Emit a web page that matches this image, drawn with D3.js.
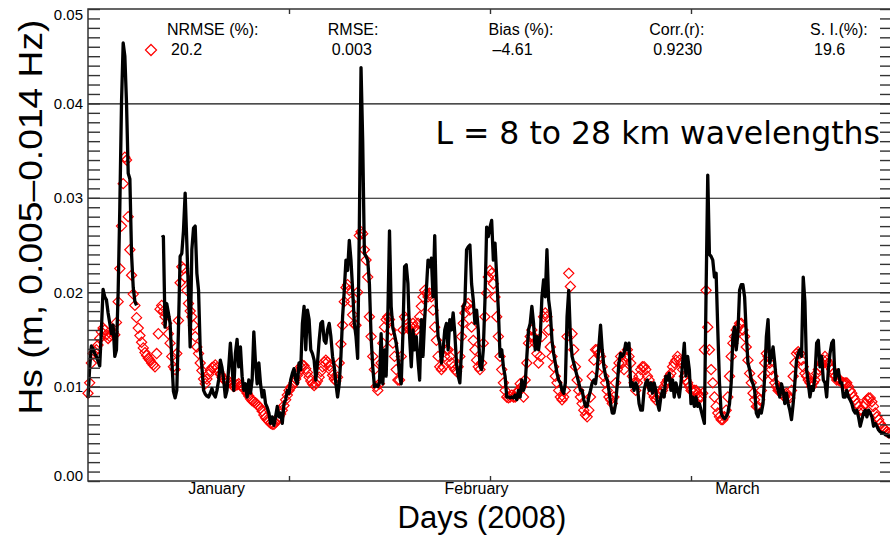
<!DOCTYPE html>
<html>
<head>
<meta charset="utf-8">
<script src="https://cdn.jsdelivr.net/npm/d3@7"></script>
<style>
  body { margin: 0; background: #fff; }
  svg { display: block; font-family: "Liberation Sans", Arial, Helvetica, sans-serif; }
</style>
</head>
<body>
<div id="chart"></div>
<script>
// Hs in mm, one sample every 4.5 h (0.1875 day) from the start of the record
const stepDays = 0.1875;

// model (red diamonds)
const hsModel = [
  9.3, 10.4, 12.5, 13.5, 13.7, 13.9, 14.4, 15.1, 15.8, 16.2,
  16.0, 15.5, 15.1, 15.3, 15.5, 15.8, 15.5, 16.8, 19.0, 22.5,
  27.0, 31.5, 34.3, 34.0, 28.0, 24.5, 21.8, 19.8, 18.6, 17.3,
  16.2, 15.4, 14.7, 14.1, 13.6, 13.3, 13.0, 12.8, 12.5, 12.3,
  12.1, 13.5, 15.6, 18.2, 18.6, 18.0, 17.4, 16.7, 15.6, 14.6,
  13.2, 12.1, 11.8, 13.5, 17.0, 21.0, 22.7, 22.5, 21.6, 20.2,
  18.8, 18.0, 17.4, 16.5, 15.3, 14.2, 13.5, 12.5, 11.7, 10.8,
  10.3, 10.8, 11.3, 11.7, 12.0, 12.1, 12.3, 12.0, 11.6, 11.3,
  11.0, 10.8, 10.6, 10.5, 10.6, 10.4, 10.2, 10.0, 10.1, 10.2,
  10.3, 10.1, 10.0, 9.8, 9.6, 9.3, 9.0, 8.7, 8.5, 8.4,
  8.3, 8.1, 7.9, 7.7, 7.4, 7.0, 6.7, 6.5, 6.3, 6.1,
  6.0, 6.0, 6.2, 6.5, 6.8, 7.1, 7.5, 8.0, 8.6, 9.1,
  9.6, 9.9, 10.1, 10.4, 10.8, 11.2, 11.6, 12.1, 12.3, 12.2,
  11.9, 11.5, 11.0, 10.6, 10.3, 10.1, 10.3, 10.6, 11.0, 11.6,
  12.1, 12.6, 12.8, 12.6, 12.2, 11.7, 11.2, 10.8, 10.6, 11.0,
  12.5, 14.5, 16.5, 19.0, 20.5, 20.8, 20.2, 19.0, 17.6, 16.6,
  16.5, 20.0,
  26.0, 26.4, 26.2, 24.5, 23.4, 21.6, 17.4, 15.3, 13.2, 11.8,
  10.0, 9.6, 10.3, 12.5, 14.6, 16.3, 17.1, 17.4, 17.1, 16.0,
  14.6, 13.2, 11.8, 10.7, 10.7, 13.2, 16.0, 17.4, 17.1, 16.3,
  16.0, 16.3, 16.7, 16.3, 16.0, 16.7, 17.4, 18.5, 19.5, 20.2,
  19.9, 19.5, 19.9, 19.5, 18.1, 16.3, 14.9, 13.2, 12.1, 11.8,
  12.1, 13.2, 13.9, 13.9, 13.2, 12.5, 12.1, 11.8, 11.6, 12.1,
  13.2, 15.3, 16.7, 17.8, 18.5, 18.8, 18.1, 16.3, 14.9, 13.9,
  12.8, 12.1, 11.8, 12.5, 14.6, 17.4, 19.9, 21.6, 22.3, 22.0,
  20.9, 19.5, 17.4, 15.3, 13.2, 11.8, 10.4, 9.6, 8.9, 8.8,
  8.9, 9.1, 8.9, 8.9, 9.3, 9.6, 10.3, 10.0, 8.9, 10.7,
  12.5, 14.6, 15.3, 16.0, 15.3, 14.6, 13.5, 12.5, 13.2, 15.3,
  17.4, 17.8, 17.4, 16.0, 14.2, 13.2, 12.1, 11.1, 10.4, 9.6,
  8.9, 8.6, 8.9, 9.6, 15.3, 22.0, 20.6, 15.6, 13.9, 12.1,
  10.7, 9.6, 8.9, 8.2, 7.5, 7.0, 6.8, 7.5, 8.9, 11.1,
  12.8, 13.9, 13.9, 13.5, 13.2, 12.1, 11.1, 10.4, 9.6, 8.9,
  8.6, 8.2, 8.9, 10.4, 11.8, 12.5, 13.2, 12.5, 11.8,
  13.2, 13.9, 13.2, 12.5, 11.1, 10.4, 9.6, 10.4, 11.1, 11.8,
  12.1, 12.1, 11.8, 11.1, 10.7, 10.0, 9.3, 8.9, 8.6, 8.9,
  9.3, 9.3, 9.6, 10.0, 10.4, 10.7, 11.1, 11.4, 12.1, 12.5,
  12.8, 13.2, 12.8, 12.5, 11.8, 11.1, 10.7, 10.4, 10.0, 9.6,
  9.5, 9.6, 9.6, 9.3, 8.9, 8.9, 9.3, 13.9, 20.2, 16.3,
  13.9, 11.8, 10.4, 8.9, 7.9, 7.2, 6.8, 6.5, 6.5, 6.8,
  7.5, 8.9, 11.1, 13.2, 14.6, 15.3, 16.0, 16.3, 16.7, 16.7,
  16.0, 15.3, 14.2, 12.8, 11.4, 10.4, 9.3, 8.6, 7.9, 7.9,
  8.6, 9.6, 11.1, 12.5, 13.5, 13.2, 12.5, 11.8, 11.1, 10.4,
  10.0, 9.6, 9.6, 9.3, 9.1, 8.9, 9.3, 8.9, 8.8, 9.6,
  11.1, 12.5, 13.5, 13.7, 13.5, 12.8, 12.1, 11.4, 11.1, 10.7,
  10.4, 10.0, 10.4, 10.7, 11.4, 11.8, 12.1, 12.5, 12.8, 13.2,
  12.8, 12.5, 12.1, 11.8, 11.4, 11.1, 10.7, 10.7, 10.7, 10.4,
  10.4, 10.4, 10.4, 10.0, 9.6, 9.3, 8.9, 8.6, 8.2, 7.9,
  7.5, 7.5, 7.9, 8.2, 8.6, 8.8, 8.8, 8.4, 7.9, 7.2,
  6.8, 6.5, 6.1, 5.8, 5.6, 5.4, 5.2, 5.1, 5.1, 4.9
];

// observations (black line), null = no data
const hsObs = [
  8.8, 12.0, 14.3, 14.0, 13.5, 13.2, 12.7, 12.2, 16.0, 20.3,
  19.5, 19.2, 17.8, 16.7, 15.6, 16.5, 13.2, 13.9, 20.0, 29.0,
  40.0, 46.4, 45.0, 40.0, 32.6, 32.0, 24.0, 20.5, 19.0, 18.6,
  null, null, null, null, null, null, null, null, null, null, null, null, null, null,
  25.8, 25.9, 16.3, 18.8, 17.8, 16.7, 13.0, 9.5, 8.8, 9.6,
  16.0, 23.8, 24.1, 26.5, 30.5, 25.2, 19.9, 14.2, 24.5, 26.8,
  27.0, 22.0, 20.2, 13.9, 12.1, 9.6, 9.2, 9.0, 8.9, 9.3,
  9.8, 9.2, 8.9, 9.6, 10.7, 12.8, 12.0, 10.7, 8.9, 9.6,
  12.0, 14.6, 12.1, 9.6, 13.5, 15.0, 12.1, 14.2, 11.1, 9.6,
  10.3, 8.9, 10.7, 9.3, 10.7, 15.8, 12.5, 10.3, 12.5, 10.3,
  8.9, 9.6, 8.2, 7.8, 7.2, 6.1, 6.8, 5.9, 6.8, 7.9,
  6.8, 7.2, 6.1, 8.2, 8.6, 9.6, 9.3, 10.7, 11.4, 11.9,
  10.7, 10.3, 12.5, 11.8, 16.7, 18.5, 13.9, 18.1, 17.1, 13.9,
  13.5, 12.8, 10.7, 12.5, 14.9, 16.7, 16.9, 14.9, 14.6, 16.0,
  16.7, 15.3, 13.2, 12.1, 10.3, 8.9, 10.3, 13.2, 17.4, 20.2,
  23.4, 22.3, 25.5, 23.4, 20.2, 16.7, 15.3, 13.0,
  27.0, 43.8, 36.0, 24.1, 23.8, 23.4, 20.9, 15.3, 12.1, 10.0,
  10.2, 10.0, 10.4, 15.6, 10.3, 13.9, 11.1, 17.4, 26.5, 18.5,
  16.2, 15.5, 14.6, 13.2, 11.1, 10.3, 15.6, 22.7, 22.9, 20.9,
  15.3, 12.1, 16.0, 13.9, 15.3, 12.8, 10.7, 17.1, 13.2, 17.1,
  20.2, 23.4, 22.7, 23.6, 19.5, 26.0, 18.5, 15.3, 14.6, 12.5,
  13.9, 16.0, 16.7, 13.9, 17.1, 16.0, 17.8, 15.6, 12.5, 11.1,
  10.4, 13.9, 18.5, 18.8, 24.5, 24.8, 25.0, 20.9, 19.2, 16.7,
  18.1, 16.0, 12.1, 11.8, 13.9, 19.2, 26.9, 25.9, 26.9, 27.6,
  23.4, 25.2, 21.6, 18.1, 13.2, 13.9, 12.1, 11.1, 8.9, 8.9,
  8.8, 8.9, 8.8, 9.1, 8.6, 9.6, 8.9, 10.7, 9.6, 10.3,
  13.2, 16.0, 16.7, 18.5, 16.7, 13.9, 15.3, 13.9, 15.3, 19.5,
  21.3, 19.5, 24.5, 19.2, 17.8, 14.9, 13.5, 12.5, 11.4, 10.7,
  10.4, 9.6, 9.3, 10.4, 17.4, 20.2, 15.3, 13.2, 12.5, 11.8,
  11.1, 10.4, 9.6, 9.6, 8.6, 7.9, 7.9, 8.9, 9.6, 10.4,
  10.7, 10.3, 11.8, 14.2, 16.5, 13.9, 12.1, 11.1, 10.7, 9.6,
  8.2, 7.2, 7.2, 8.2, 10.3, 12.5, 13.5, 13.2, 13.5,
  14.6, 13.9, 14.6, 10.0, 10.4, 9.6, 10.4, 10.0, 8.2, 7.5,
  7.5, 9.6, 10.4, 10.7, 9.6, 10.4, 9.3, 10.4, 9.6, 8.2,
  7.5, 8.9, 9.6, 8.9, 11.1, 10.7, 11.4, 9.6, 10.7, 8.9,
  10.4, 9.6, 8.9, 10.4, 12.5, 14.6, 11.1, 13.2, 11.8, 8.2,
  8.9, 7.9, 8.9, 7.9, 8.2, 7.5, 6.8, 6.1, 20.0, 32.4,
  24.0, 23.8, 23.4, 21.6, 22.0, 16.0, 10.4, 7.2, 6.8, 6.6,
  6.8, 7.2, 8.2, 10.4, 15.3, 16.3, 13.9, 15.6, 20.2, 20.8,
  20.8, 19.5, 15.6, 12.5, 11.8, 10.7, 10.3, 9.6, 7.2, 6.8,
  7.5, 7.2, 8.2, 11.1, 15.3, 17.1, 12.5, 13.2, 14.2, 12.5,
  10.4, 9.6, 8.9, 10.3, 9.6, 8.2, 9.3, 8.2, 7.5, 6.5,
  8.2, 10.4, 12.8, 13.5, 13.9, 13.2, 21.6, 19.0, 11.8, 10.4,
  8.9, 10.0, 9.6, 11.1, 14.6, 14.9, 12.1, 13.2, 10.7, 10.4,
  8.9, 11.8, 13.5, 14.6, 14.9, 10.7, 11.4, 11.8, 10.4, 10.4,
  8.9, 8.9, 9.6, 8.9, 8.6, 8.2, 7.5, 7.2, 7.5, 6.8,
  5.8, 6.5, 7.2, 7.5, 6.8, 7.5, 7.2, 6.8, 5.8, 6.1,
  5.8, 5.4, 5.2, 5.1, 5.1, 4.9, 4.9, 4.7, 4.7, 4.5
];

const yTicks = [0, 0.01, 0.02, 0.03, 0.04, 0.05];
const xTickDays = [22.5, 45, 67.5];
const monthNames = ['January', 'February', 'March'];
const monthDays = [14.4, 43.5, 72.7];
const statNames = ['NRMSE (%):', 'RMSE:', 'Bias (%):', 'Corr.(r):', 'S. I.(%):'];
const statValues = ['20.2', '0.003', '\u20134.61', '0.9230', '19.6'];

const width = 890;
const height = 536;
const plot = { left: 88, right: 892, top: 9, bottom: 481 };

const svg = d3.select('#chart').append('svg')
  .attr('width', width)
  .attr('height', height);

const x = d3.scaleLinear().domain([0, 90]).range([plot.left, plot.right]);
const y = d3.scaleLinear().domain([0, 0.05]).range([plot.bottom, plot.top]);

const model = hsModel.map((v, i) => ({ day: i * stepDays, hs: v / 1000 }));
const obs = hsObs.map((v, i) => ({ day: i * stepDays, hs: v == null ? null : v / 1000 }));

// horizontal grid
svg.append('g')
  .attr('class', 'grid')
  .attr('transform', `translate(${plot.left},0)`)
  .call(d3.axisRight(y).tickValues(yTicks.slice(1, -1)).tickSize(plot.right - plot.left).tickFormat(''))
  .call(g => g.select('.domain').remove())
  .call(g => g.selectAll('line').attr('stroke', '#111').attr('stroke-width', 1.1));

// red diamonds
const diamond = d3.symbol().type(d3.symbolDiamond2).size(66);
svg.append('g')
  .selectAll('path')
  .data(model)
  .join('path')
  .attr('d', diamond)
  .attr('transform', d => `translate(${x(d.day)},${y(d.hs)})`)
  .attr('fill', 'none')
  .attr('stroke', '#ff0000')
  .attr('stroke-width', 1.2);

// black line
const line = d3.line()
  .defined(d => d.hs != null)
  .x(d => x(d.day))
  .y(d => y(d.hs));

svg.append('path')
  .datum(obs)
  .attr('d', line)
  .attr('fill', 'none')
  .attr('stroke', '#000')
  .attr('stroke-width', 3.3)
  .attr('stroke-linejoin', 'round');

// frame
svg.append('rect')
  .attr('x', plot.left)
  .attr('y', plot.top)
  .attr('width', plot.right - plot.left)
  .attr('height', plot.bottom - plot.top)
  .attr('fill', 'none')
  .attr('stroke', '#333')
  .attr('stroke-width', 1.5);

// minor y ticks on both sides
const minorTicks = d3.range(0, 51).map(d => d / 1000);
const tickStyle = g => g.call(g => g.select('.domain').remove())
  .call(g => g.selectAll('line').attr('stroke', '#333').attr('stroke-width', 1.4));

svg.append('g')
  .attr('transform', `translate(${plot.left},0)`)
  .call(d3.axisRight(y).tickValues(minorTicks).tickSize(12).tickFormat(''))
  .call(tickStyle);
svg.append('g')
  .attr('transform', `translate(${plot.right},0)`)
  .call(d3.axisLeft(y).tickValues(minorTicks).tickSize(12).tickFormat(''))
  .call(tickStyle);

// x ticks top and bottom
svg.append('g')
  .attr('transform', `translate(0,${plot.bottom})`)
  .call(d3.axisTop(x).tickValues(xTickDays).tickSize(5).tickFormat(''))
  .call(tickStyle);
svg.append('g')
  .attr('transform', `translate(0,${plot.top})`)
  .call(d3.axisBottom(x).tickValues(xTickDays).tickSize(5).tickFormat(''))
  .call(tickStyle);

// y labels
svg.append('g')
  .attr('transform', `translate(${plot.left},0)`)
  .call(d3.axisLeft(y).tickValues(yTicks).tickSize(0).tickPadding(5).tickFormat(d3.format('.2f')))
  .call(g => g.select('.domain').remove())
  .call(g => g.selectAll('text')
    .attr('font-size', 15)
    .attr('font-family', '"Liberation Sans", Arial, sans-serif')
    .attr('fill', '#000')
    .attr('dy', d => d === 0 ? '-0.05em' : d === 0.05 ? '0.72em' : '0.32em'));

// month labels
svg.append('g')
  .selectAll('text')
  .data(monthNames)
  .join('text')
  .attr('x', (d, i) => x(monthDays[i]))
  .attr('y', 494)
  .attr('text-anchor', 'middle')
  .attr('font-size', 16)
  .text(d => d);

// axis titles
svg.append('text')
  .attr('x', 482)
  .attr('y', 528)
  .attr('text-anchor', 'middle')
  .attr('font-size', 31)
  .text('Days (2008)');

svg.append('text')
  .attr('transform', 'translate(42,217) rotate(-90)')
  .attr('text-anchor', 'middle')
  .attr('font-size', 33)
  .attr('textLength', 395)
  .attr('lengthAdjust', 'spacingAndGlyphs')
  .text('Hs (m, 0.005\u20130.014 Hz)');

// statistics
const statX = d3.scalePoint().domain(statNames).range([167, 810]);
const stats = svg.append('g')
  .selectAll('g')
  .data(statNames)
  .join('g')
  .attr('transform', d => `translate(${statX(d)},0)`)
  .attr('font-size', 16);
stats.append('text').attr('y', 35).text(d => d);
stats.append('text').attr('x', 4).attr('y', 55).text((d, i) => statValues[i]);

svg.append('path')
  .attr('d', d3.symbol().type(d3.symbolDiamond2).size(78))
  .attr('transform', 'translate(151,50)')
  .attr('fill', 'none')
  .attr('stroke', '#ff0000')
  .attr('stroke-width', 1.2);

svg.append('text')
  .attr('x', 880)
  .attr('y', 144)
  .attr('text-anchor', 'end')
  .attr('font-family', '"DejaVu Sans", sans-serif')
  .attr('font-size', 31.5)
  .text('L = 8 to 28 km wavelengths');
</script>
</body>
</html>
